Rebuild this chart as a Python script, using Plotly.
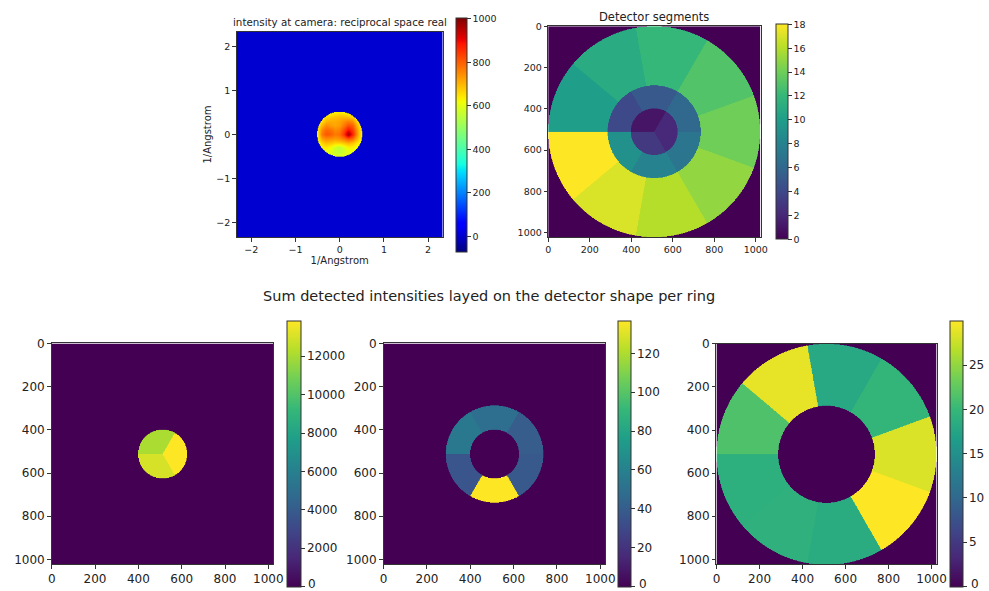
import numpy as np
import plotly.graph_objects as go

W, H = 989, 591

# ---------------- data ----------------
# detector geometry (pixels on a 1024 x 1024 detector)
det_size = 1024
ring_radii = [113, 225, 512]          # outer radius of ring 0, 1, 2
ring_segments = [3, 6, 9]             # number of segments per ring
first_segment_id = [1, 4, 10]         # ids: 1-3 inner, 4-9 middle, 10-18 outer
segment_start_deg = 180

# summed intensity per segment, per ring
inner_sums = [12100, 13850, 13000]
middle_sums = [55, 49, 40, 38, 136.8, 36]
outer_sums = [21.5, 29.0, 18.0, 19.7, 28.4, 30.0, 18.5, 19.1, 19.0]

# intensity at camera (coarse read-out table, 1/Angstrom grid, rows top->bottom)
table_x = [-0.5, -0.4, -0.3, -0.2, -0.1, 0.0, 0.1, 0.2, 0.3, 0.4, 0.5]
table_y = [0.5, 0.4, 0.3, 0.2, 0.1, 0.0, -0.1, -0.2, -0.3, -0.4, -0.5]
intensity_table = [
    [600, 600, 610, 620, 630, 640, 630, 620, 610, 600, 600],
    [600, 620, 650, 670, 680, 690, 690, 680, 660, 620, 600],
    [610, 650, 700, 710, 710, 720, 740, 760, 740, 660, 610],
    [620, 700, 750, 730, 720, 730, 770, 820, 800, 700, 620],
    [630, 750, 790, 780, 750, 760, 820, 890, 840, 730, 630],
    [630, 770, 810, 800, 770, 780, 850, 980, 870, 740, 630],
    [620, 720, 750, 740, 730, 740, 770, 810, 780, 700, 620],
    [610, 660, 690, 680, 660, 660, 680, 700, 680, 640, 610],
    [600, 630, 640, 620, 580, 550, 590, 630, 630, 610, 600],
    [600, 610, 610, 600, 570, 560, 580, 600, 610, 600, 600],
    [600, 600, 600, 600, 600, 600, 600, 600, 600, 600, 600],
]
disk_radius = 0.51
disk_center = (0.0, 0.01)
background_level = 5
cam_extent = 2.33
cam_zmin, cam_zmax = -70, 1005

seg_ticks = [0, 2, 4, 6, 8, 10, 12, 14, 16, 18]
det_ticks = [0, 200, 400, 600, 800, 1000]
cam_ticks = [-2, -1, 0, 1, 2]
cam_cbar_ticks = [0, 200, 400, 600, 800, 1000]
ring_cbar_ticks = [
    [0, 2000, 4000, 6000, 8000, 10000, 12000],
    [0, 20, 40, 60, 80, 100, 120],
    [0, 5, 10, 15, 20, 25],
]

# ---------------- build images ----------------
n = 400
step = det_size / n
centers = np.arange(n) * step + (step - 1) / 2.0
X, Y = np.meshgrid(centers, centers)
c0 = (det_size - 1) / 2.0
dx, dy = X - c0, Y - c0
R = np.hypot(dx, dy)
phi = np.degrees(np.arctan2(dy, dx)) % 360
rel = (phi - segment_start_deg) % 360

seg_map = np.zeros((n, n), dtype=int)
ring_map = np.full((n, n), -1, dtype=int)
inner_r = 0
for k, (r_out, nseg, fid) in enumerate(zip(ring_radii, ring_segments, first_segment_id)):
    m = (R >= inner_r) & (R < r_out)
    idx = np.floor(rel / (360.0 / nseg)).astype(int)
    seg_map[m] = fid + idx[m]
    ring_map[m] = k
    inner_r = r_out

ring_values = [inner_sums, middle_sums, outer_sums]
ring_imgs = []
for k in range(3):
    img = np.zeros((n, n))
    vals = np.array(ring_values[k])
    m = ring_map == k
    img[m] = vals[seg_map[m] - first_segment_id[k]]
    ring_imgs.append(img)

# camera image
nc = 300
cx = np.linspace(-cam_extent + cam_extent / nc, cam_extent - cam_extent / nc, nc)
CX, CY = np.meshgrid(cx, cx)
tab = np.array(intensity_table, dtype=float)
tx = np.array(table_x)
ty = np.array(table_y)
fx = np.clip((CX - tx[0]) / (tx[1] - tx[0]), 0, len(tx) - 1.0001)
fy = np.clip((ty[0] - CY) / (ty[0] - ty[1]), 0, len(ty) - 1.0001)
i0 = np.floor(fx).astype(int)
j0 = np.floor(fy).astype(int)
ax_ = fx - i0
ay_ = fy - j0
interp = (tab[j0, i0] * (1 - ax_) * (1 - ay_) + tab[j0, i0 + 1] * ax_ * (1 - ay_)
          + tab[j0 + 1, i0] * (1 - ax_) * ay_ + tab[j0 + 1, i0 + 1] * ax_ * ay_)
CR = np.hypot(CX - disk_center[0], CY - disk_center[1])
cam = np.where(CR < disk_radius, interp, background_level)

# matplotlib jet colourscale
def jet_scale():
    r = ([0, 0.35, 0.66, 0.89, 1], [0, 0, 1, 1, 0.5])
    g = ([0, 0.125, 0.375, 0.64, 0.91, 1], [0, 0, 1, 1, 0, 0])
    b = ([0, 0.11, 0.34, 0.65, 1], [0.5, 1, 1, 0, 0])
    ts = sorted(set(r[0] + g[0] + b[0]))
    out = []
    for t in ts:
        cr = np.interp(t, *r); cg = np.interp(t, *g); cb = np.interp(t, *b)
        out.append([t, "rgb(%d,%d,%d)" % (round(cr * 255), round(cg * 255), round(cb * 255))])
    return out

# ---------------- layout helpers ----------------
FONT = "DejaVu Sans"
TXT = "#222222"
LINE = "#333333"

def px(x):
    return x / W

def py(y):
    return 1 - y / H

def axis_style(size, ticks, rng, dom, anchor, title=None):
    d = dict(domain=dom, range=rng, anchor=anchor, showgrid=False, zeroline=False,
             showline=True, mirror=True, linecolor=LINE, linewidth=1,
             ticks="outside", ticklen=3.5, tickwidth=1, tickcolor=LINE,
             tickvals=ticks, tickfont=dict(family=FONT, size=size, color=TXT))
    if title:
        d["title"] = dict(text=title, font=dict(family=FONT, size=10, color=TXT), standoff=2)
    return d

def cbar(x0, x1, y0, y1, ticks, size):
    return dict(x=px(x0), xanchor="left", xpad=0, ypad=0,
                y=py((y0 + y1) / 2), yanchor="middle",
                len=y1 - y0, lenmode="pixels", thickness=x1 - x0, thicknessmode="pixels",
                outlinewidth=1, outlinecolor=LINE, ticks="outside", ticklen=3.5,
                tickcolor=LINE, tickvals=ticks, tickformat="d",
                tickfont=dict(family=FONT, size=size, color=TXT))

fig = go.Figure()
layout = dict(width=W, height=H, margin=dict(l=0, r=0, t=0, b=0),
              paper_bgcolor="white", plot_bgcolor="white", showlegend=False)

det_rng_x = [-0.5, det_size - 0.5]
det_rng_y = [det_size - 0.5, -0.5]

# panel boxes in pixels: (left, right, top, bottom)
boxes = [
    (236, 445, 25, 234),       # camera
    (552, 767.5, 19.5, 234),   # detector segments
    (48.3, 273.3, 341.7, 566),
    (385, 610, 341.7, 566),
    (722.7, 946, 342, 566),
]
cbars = [
    (458, 469, 12.7, 246.7),
    (783.3, 795, 19.5, 234),
    (286.7, 300.7, 320.7, 586.7),
    (622.7, 636, 320.7, 586.7),
    (960, 973.3, 320.7, 586.7),
]

# camera panel
l, r_, t, b = boxes[0]
fig.add_trace(go.Heatmap(x=cx, y=cx, z=cam, colorscale=jet_scale(), zmin=cam_zmin, zmax=cam_zmax,
                         xaxis="x", yaxis="y", zsmooth="fast",
                         colorbar=cbar(*cbars[0], cam_cbar_ticks, 9.5)))
layout["xaxis"] = axis_style(9.5, cam_ticks, [-cam_extent, cam_extent], [px(l), px(r_)], "y", "1/Angstrom")
layout["yaxis"] = axis_style(9.5, cam_ticks, [-cam_extent, cam_extent], [py(b), py(t)], "x", "1/Angstrom")

# detector segments panel
l, r_, t, b = boxes[1]
fig.add_trace(go.Heatmap(x=centers, y=centers, z=seg_map, colorscale="Viridis", zmin=-0.01, zmax=18,
                         xaxis="x2", yaxis="y2", zsmooth="fast",
                         colorbar=cbar(*cbars[1], seg_ticks, 9.5)))
layout["xaxis2"] = axis_style(9.5, det_ticks, det_rng_x, [px(l), px(r_)], "y2")
layout["yaxis2"] = axis_style(9.5, det_ticks, det_rng_y, [py(b), py(t)], "x2")

annotations = []
# ring panels
for k in range(3):
    l, r_, t, b = boxes[2 + k]
    xa, ya = "x%d" % (3 + k), "y%d" % (3 + k)
    zmax = max(ring_values[k])
    fig.add_trace(go.Heatmap(x=centers, y=centers, z=ring_imgs[k], colorscale="Viridis",
                             zmin=-0.001 * zmax, zmax=zmax, xaxis=xa, yaxis=ya, zsmooth="fast",
                             colorbar=cbar(*cbars[2 + k], ring_cbar_ticks[k], 12)))
    layout["xaxis%d" % (3 + k)] = axis_style(12, det_ticks, det_rng_x, [px(l), px(r_)], ya)
    layout["yaxis%d" % (3 + k)] = axis_style(12, det_ticks, det_rng_y, [py(b), py(t)], xa)
    # the bottom "0" label of the colour bar sits at the figure edge; draw it explicitly
    cb = cbars[2 + k]
    annotations.append(dict(text=str(ring_cbar_ticks[k][0]), x=px(cb[1] + 6), y=py(cb[3] - 0.5),
                            xref="paper", yref="paper", showarrow=False, xanchor="left",
                            yanchor="middle", font=dict(family=FONT, size=12, color=TXT)))

annotations += [
    dict(text="intensity at camera: reciprocal space real", x=px(340.5), y=py(15), xref="paper",
         yref="paper", showarrow=False, xanchor="center", yanchor="middle",
         font=dict(family=FONT, size=10.3, color=TXT)),
    dict(text="Detector segments", x=px(659), y=py(10), xref="paper", yref="paper",
         showarrow=False, xanchor="center", yanchor="middle",
         font=dict(family=FONT, size=11.5, color=TXT)),
    dict(text="Sum detected intensities layed on the detector shape per ring", x=px(492), y=py(293),
         xref="paper", yref="paper", showarrow=False, xanchor="center", yanchor="middle",
         font=dict(family=FONT, size=14.5, color=TXT)),
]
layout["annotations"] = annotations

fig.update_layout(**layout)
fig.write_html("out.html")
